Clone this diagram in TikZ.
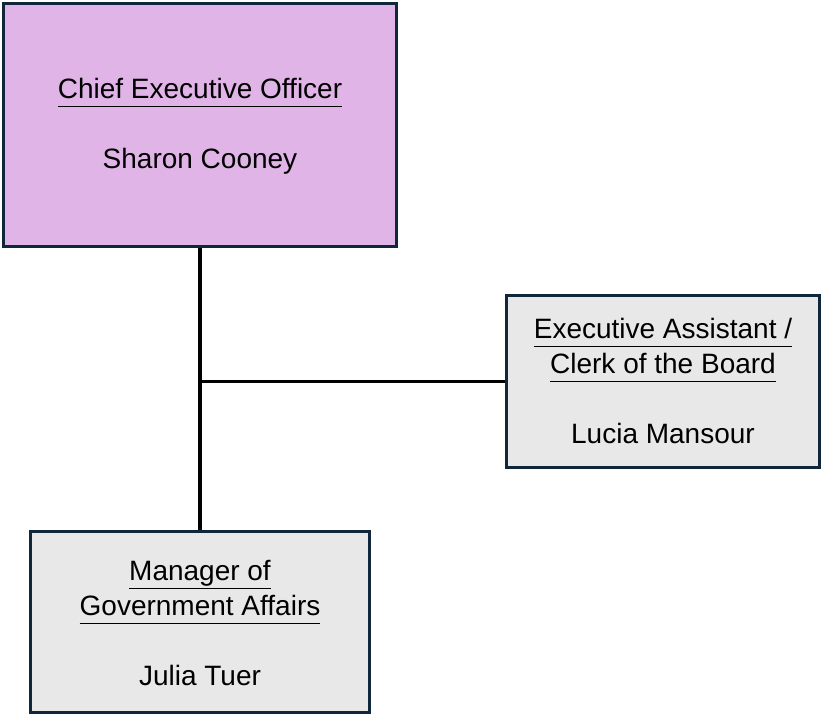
\documentclass[tikz,border=0pt]{standalone}
\usepackage{fontspec}
\setmainfont{Liberation Sans}
\definecolor{bordercol}{HTML}{10263A}
\definecolor{ceofill}{HTML}{E0B4E6}
\definecolor{staffill}{HTML}{E8E8E8}
\newcommand{\ulx}[1]{\underline{\smash{#1}\vphantom{g}}}
\tikzset{
  orgbox/.style={draw=bordercol, line width=3bp, inner sep=0pt},
  ceobox/.style={orgbox, fill=ceofill, minimum width=393bp, minimum height=243bp},
  staffbox/.style={orgbox, fill=staffill},
  boxtext/.style={align=center, inner sep=0pt, yshift=-4bp,
    font=\fontsize{28bp}{35bp}\selectfont},
  link/.style={line width=3.5bp, draw=black}
}
\begin{document}
\begin{tikzpicture}[x=1bp, y=-1bp]
\useasboundingbox (0,0) rectangle (822,715);
\node[ceobox] (ceo) at (200,125) {};
\node[boxtext] (ceotxt) at (ceo.center) {\ulx{Chief Executive Officer}\\[35bp]Sharon Cooney};
\node[staffbox, minimum width=313bp, minimum height=172bp] (ea) at (663,381.5) {};
\node[boxtext, yshift=1.5bp] (eatxt) at (ea.center)
  {\ulx{Executive Assistant /}\\\ulx{Clerk of the Board}\\[35bp]Lucia Mansour};
\node[staffbox, minimum width=338bp, minimum height=181bp] (mgr) at (200,622) {};
\node[boxtext] (mgrtxt) at (mgr.center)
  {\ulx{Manager of}\\\ulx{Government Affairs}\\[35bp]Julia Tuer};
\coordinate (junc) at (ceo.south |- ea.west);
\draw[link] (ceo.south) -- (mgr.north);
\draw[link] (junc) -- (ea.west);
\end{tikzpicture}
\end{document}
